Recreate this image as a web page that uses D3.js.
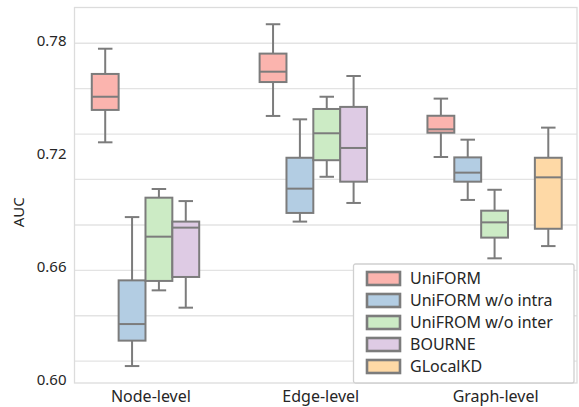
<!DOCTYPE html>
<html>
<head>
<meta charset="utf-8">
<script src="https://cdn.jsdelivr.net/npm/d3@7"></script>
<style>
  html, body { margin: 0; padding: 0; background: #fff; }
  svg { display: block; }
  text { font-family: "Noto Sans", "Open Sans", sans-serif; fill: #262626; }
</style>
</head>
<body>
<svg id="chart" width="579" height="407"></svg>
<script>
// ---- data ----
const categories = ["Node-level", "Edge-level", "Graph-level"];
const seriesNames = ["UniFORM", "UniFORM w/o intra", "UniFROM w/o inter", "BOURNE", "GLocalKD"];
const seriesColors = ["#fbb4ae", "#b3cde3", "#ccebc5", "#decbe4", "#fed9a6"];
// box stats per series: [whiskerLow, q1, median, q3, whiskerHigh] for each category (null = no box)
const uniform       = [[0.7270, 0.7442, 0.7512, 0.7633, 0.7767], [0.7410, 0.7590, 0.7645, 0.7741, 0.7897], [0.7192, 0.7321, 0.7339, 0.7411, 0.7502]];
const uniformNoIntra= [[0.6082, 0.6217, 0.6305, 0.6537, 0.6873], [0.6849, 0.6895, 0.7024, 0.7188, 0.7392], [0.6964, 0.7061, 0.7109, 0.7190, 0.7284]];
const uniformNoInter= [[0.6484, 0.6534, 0.6769, 0.6976, 0.7022], [0.7087, 0.7175, 0.7318, 0.7447, 0.7512], [0.6654, 0.6764, 0.6845, 0.6907, 0.7018]];
const bourne        = [[0.6392, 0.6555, 0.6817, 0.6849, 0.6958], [0.6948, 0.7061, 0.7240, 0.7458, 0.7622], null];
const glocalkd      = [null, null, [0.6719, 0.6811, 0.7084, 0.7188, 0.7348]];
const seriesValues = [uniform, uniformNoIntra, uniformNoInter, bourne, glocalkd];
const yTickValues = [0.60, 0.66, 0.72, 0.78];
const yGridValues = [0.6108, 0.6349, 0.6590, 0.6831, 0.7073, 0.7314, 0.7555, 0.7796];
const yLabel = "AUC";

// ---- layout ----
const svg = d3.select("#chart");
const frame = { left: 74.5, right: 577, top: 7.5, bottom: 383 };
const x = d3.scaleBand().domain(categories).range([75, 578.5]).paddingInner(0).paddingOuter(0);
const hue = d3.scaleBand().domain(seriesNames).range([0, x.bandwidth() * 0.8]);
const y = d3.scaleLinear().domain([0.60, 0.78]).range([381.5, 42.5]);
const lineColor = "#7c7c7c";

// grid
svg.append("g").selectAll("line").data(yGridValues).join("line")
  .attr("x1", frame.left).attr("x2", frame.right)
  .attr("y1", d => y(d)).attr("y2", d => y(d))
  .attr("stroke", "#e3e3e3").attr("stroke-width", 1.3);

// frame
svg.append("rect")
  .attr("x", frame.left).attr("y", frame.top)
  .attr("width", frame.right - frame.left).attr("height", frame.bottom - frame.top)
  .attr("fill", "none").attr("stroke", "#dcdcdc").attr("stroke-width", 1.3);

// y axis (labels only)
const yAxis = d3.axisLeft(y).tickValues(yTickValues).tickFormat(d3.format(".2f")).tickSize(0).tickPadding(8);
const gy = svg.append("g").attr("transform", `translate(${frame.left},0)`).call(yAxis);
gy.select(".domain").remove();
gy.selectAll("text").attr("font-size", 15).attr("fill", "#262626").attr("dy", "0.22em")
  .style("font-family", '"Noto Sans", sans-serif');

// x axis (labels only)
const labelDx = [-8, -6, 1];
const xAxis = d3.axisBottom(x).tickSize(0).tickPadding(8);
const gx = svg.append("g").attr("transform", `translate(0,${frame.bottom})`).call(xAxis);
gx.select(".domain").remove();
gx.selectAll("text").attr("font-size", 16).attr("fill", "#262626")
  .attr("dx", (d, i) => labelDx[i])
  .style("font-family", '"Noto Sans", sans-serif');

// y label
svg.append("text")
  .attr("transform", `translate(19,${(frame.top + frame.bottom) / 2 + 17}) rotate(-90)`)
  .attr("text-anchor", "middle").attr("dy", "0.35em")
  .attr("font-size", 15).text(yLabel);

// boxes
const w = hue.bandwidth();
const capW = w * 0.54;
const boxes = [];
seriesValues.forEach((vals, si) => {
  vals.forEach((s, ci) => {
    if (!s) return;
    boxes.push({ si, cat: categories[ci], s });
  });
});
const gb = svg.append("g");
boxes.forEach(b => {
  const cx = x(b.cat) + x.bandwidth() * 0.1 + hue(seriesNames[b.si]) + w / 2;
  const [lo, q1, med, q3, hi] = b.s;
  const g = gb.append("g").attr("stroke", lineColor).attr("stroke-width", 2);
  g.append("line").attr("x1", cx).attr("x2", cx).attr("y1", y(hi)).attr("y2", y(q3));
  g.append("line").attr("x1", cx).attr("x2", cx).attr("y1", y(q1)).attr("y2", y(lo));
  g.append("line").attr("x1", cx - capW / 2).attr("x2", cx + capW / 2).attr("y1", y(hi)).attr("y2", y(hi));
  g.append("line").attr("x1", cx - capW / 2).attr("x2", cx + capW / 2).attr("y1", y(lo)).attr("y2", y(lo));
  g.append("rect").attr("x", cx - w / 2).attr("y", y(q3)).attr("width", w).attr("height", y(q1) - y(q3))
    .attr("fill", seriesColors[b.si]);
  g.append("line").attr("x1", cx - w / 2).attr("x2", cx + w / 2).attr("y1", y(med)).attr("y2", y(med));
});

// legend
const lg = svg.append("g").attr("transform", "translate(353.5,264)");
lg.append("rect").attr("width", 220.5).attr("height", 119).attr("rx", 2)
  .attr("fill", "#fff").attr("stroke", "#d0d0d0").attr("stroke-width", 1.3);
const rowY = d3.scaleBand().domain(seriesNames).range([3.5, 113.5]);
const items = lg.selectAll("g.item").data(seriesNames).join("g").attr("class", "item")
  .attr("transform", d => `translate(0,${rowY(d) + rowY.bandwidth() / 2})`);
items.append("rect").attr("x", 13.5).attr("y", -6.5).attr("width", 33).attr("height", 13)
  .attr("fill", (d, i) => seriesColors[i]).attr("stroke", lineColor).attr("stroke-width", 2.6);
items.append("text").attr("x", 56.5).attr("dy", "0.36em").attr("font-size", 16).text(d => d);
</script>
</body>
</html>
